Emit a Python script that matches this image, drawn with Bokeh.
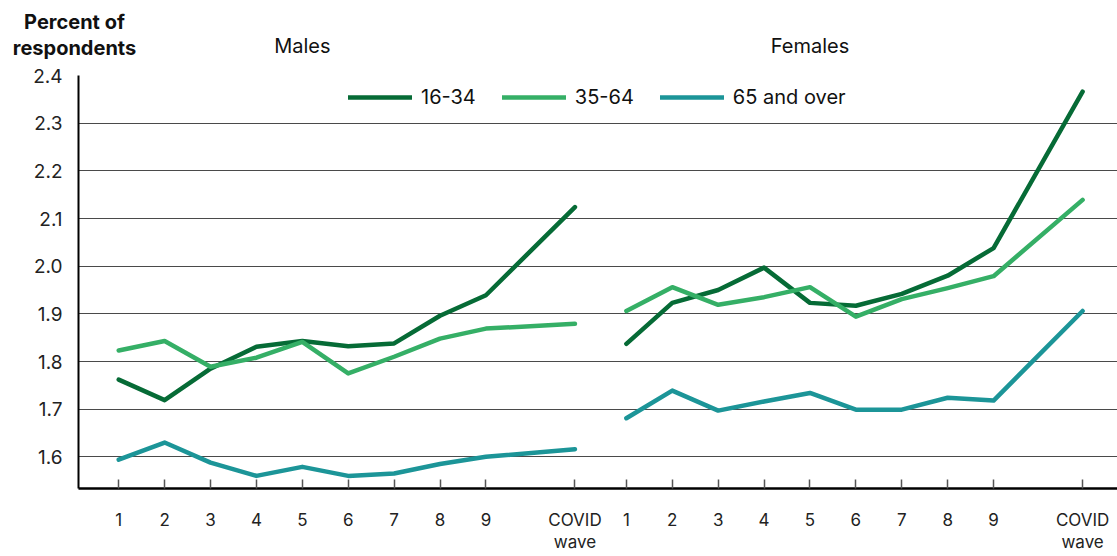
from bokeh.plotting import figure
from bokeh.layouts import column
from bokeh.models import Range1d, FixedTicker, Legend, LegendItem, PrintfTickFormatter
from bokeh.core.properties import value
from bokeh.embed import file_html
from bokeh.resources import INLINE

# ---- data ----
waves = ["1", "2", "3", "4", "5", "6", "7", "8", "9", "COVID\nwave"]
series_names = ["16-34", "35-64", "65 and over"]

males_16_34 = [1.762, 1.719, 1.785, 1.831, 1.843, 1.832, 1.838, 1.896, 1.939, 2.124]
males_35_64 = [1.823, 1.843, 1.789, 1.808, 1.841, 1.775, 1.810, 1.848, 1.869, 1.879]
males_65_over = [1.594, 1.630, 1.588, 1.560, 1.579, 1.560, 1.565, 1.585, 1.600, 1.616]

females_16_34 = [1.837, 1.923, 1.950, 1.997, 1.923, 1.917, 1.942, 1.980, 2.038, 2.366]
females_35_64 = [1.906, 1.956, 1.919, 1.935, 1.956, 1.894, 1.931, 1.954, 1.979, 2.139]
females_65_over = [1.681, 1.739, 1.697, 1.716, 1.734, 1.699, 1.699, 1.724, 1.718, 1.906]

y_ticks = [1.6, 1.7, 1.8, 1.9, 2.0, 2.1, 2.2, 2.3, 2.4]
panel_titles = ["Males", "Females"]
y_title = "Percent of\nrespondents"

# ---- layout constants ----
panel_pos = [0, 1, 2, 3, 4, 5, 6, 7, 8, 9.94]
female_offset = 11.06
x_m = panel_pos
x_f = [round(v + female_offset, 2) for v in panel_pos]

colors = ["#066B36", "#35AF66", "#1C9598"]
FONT = "Inter"
W = 1117
HEADER_H = 60
MAIN_H = 496
LEFT = 78
X0, X1 = -0.876, 21.76

p = figure(width=W, height=MAIN_H, output_backend="svg", toolbar_location=None,
           x_range=Range1d(X0, X1), y_range=Range1d(1.5336, 2.4),
           min_border_left=LEFT, min_border_top=15, min_border_bottom=68, min_border_right=0)
p.frame_align = False
p.outline_line_color = None
p.background_fill_color = "white"
p.border_fill_color = "white"

males = [males_16_34, males_35_64, males_65_over]
females = [females_16_34, females_35_64, females_65_over]
items = []
for name, col, m, f in zip(series_names, colors, males, females):
    r = p.multi_line(xs=[x_m, x_f], ys=[m, f], line_color=col, line_width=4.5,
                     line_cap="round", line_join="round")
    items.append(LegendItem(label=name, renderers=[r]))

legend = Legend(items=items, orientation="horizontal", location=(270, 379),
                padding=0, margin=0, spacing=26, glyph_width=64, glyph_height=20,
                label_height=20, label_standoff=9,
                label_text_font=FONT, label_text_font_size="20px", label_text_color="#111111",
                background_fill_alpha=0, border_line_color=None)
p.add_layout(legend)

# axes
p.xgrid.grid_line_color = None
p.ygrid.ticker = FixedTicker(ticks=y_ticks)
p.ygrid.grid_line_color = "#4a4a4a"
p.ygrid.grid_line_width = 1

p.yaxis.ticker = FixedTicker(ticks=y_ticks)
p.yaxis.formatter = PrintfTickFormatter(format="%.1f")
p.yaxis.axis_line_color = "black"
p.yaxis.axis_line_width = 2
p.yaxis.major_tick_line_color = None
p.yaxis.minor_tick_line_color = None
p.yaxis.major_tick_out = 0
p.yaxis.major_tick_in = 0
p.yaxis.major_label_standoff = 16
p.yaxis.major_label_text_font = FONT
p.yaxis.major_label_text_font_size = "19px"
p.yaxis.major_label_text_color = "#222222"

x_ticks = x_m + x_f
p.xaxis.ticker = FixedTicker(ticks=x_ticks)
p.xaxis.major_label_overrides = {t: lab for t, lab in zip(x_ticks, waves + waves)}
p.xaxis.axis_line_color = "black"
p.xaxis.axis_line_width = 2.5
p.xaxis.major_tick_line_color = "#555555"
p.xaxis.major_tick_line_width = 1.5
p.xaxis.major_tick_in = 9
p.xaxis.major_tick_out = 0
p.xaxis.minor_tick_line_color = None
p.xaxis.major_label_standoff = 21
p.xaxis.major_label_text_font = FONT
p.xaxis.major_label_text_font_size = "17px"
p.xaxis.major_label_text_color = "#222222"
p.xaxis.major_label_text_line_height = 1.1

# ---- header with titles (pixel coordinates) ----
h = figure(width=W, height=HEADER_H, output_backend="svg", toolbar_location=None,
           x_range=Range1d(0, W), y_range=Range1d(HEADER_H, 0),
           min_border_left=0, min_border_right=0, min_border_top=0, min_border_bottom=0)
h.frame_align = False
h.axis.visible = False
h.grid.visible = False
h.outline_line_color = None


def to_px(x):
    return LEFT + (x - X0) / (X1 - X0) * (W - LEFT)


h.text(x=[74], y=[9], text=[y_title], text_align="center", text_baseline="top",
       text_font=value(FONT), text_font_size="20px", text_font_style="bold",
       text_color="#111111", text_line_height=1.12)
h.text(x=[to_px(4), to_px(4 + female_offset)], y=[45, 45], text=panel_titles,
       text_align="center", text_baseline="middle", text_font=value(FONT),
       text_font_size="20px", text_color="#111111")

layout = column(h, p, spacing=0)
open("out.html", "w").write(file_html(layout, INLINE))
